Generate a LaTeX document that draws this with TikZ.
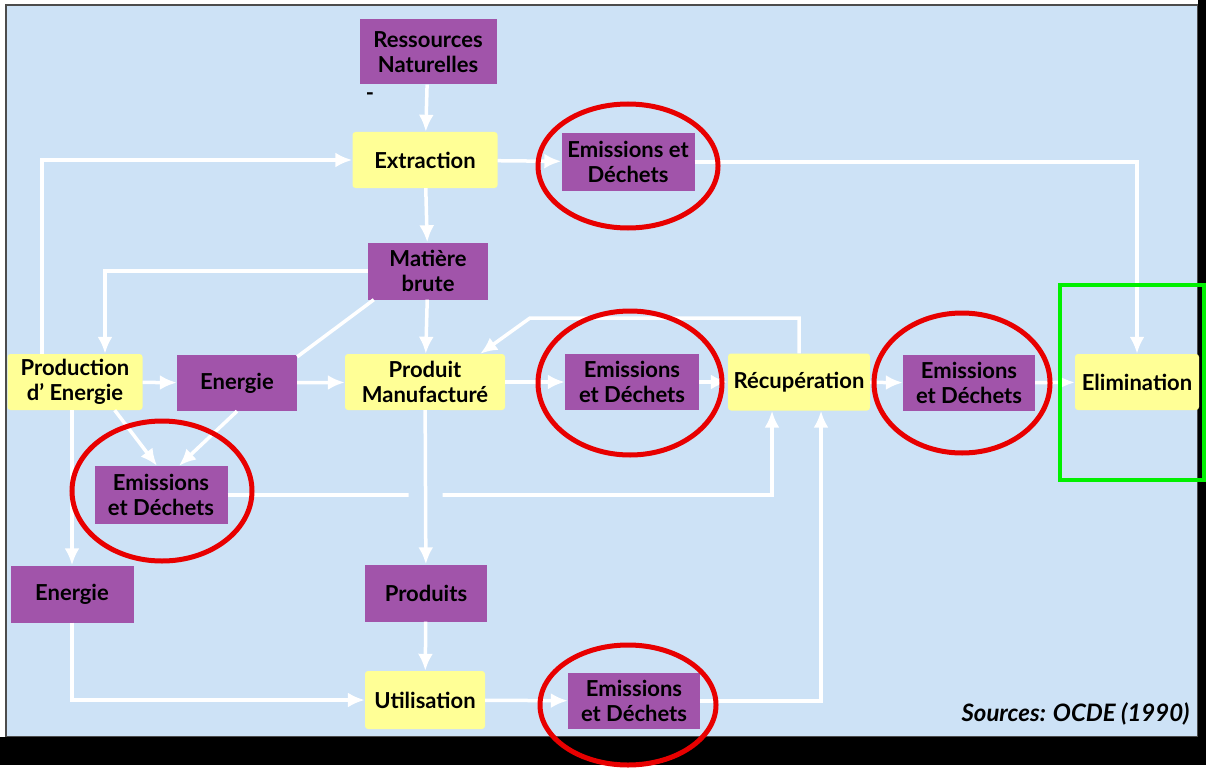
\documentclass[tikz,border=0pt]{standalone}
\usepackage{fontspec}
\setmainfont{Lato}
\usetikzlibrary{arrows.meta}

\definecolor{bgblue}{RGB}{205,226,246}
\definecolor{boxpurple}{RGB}{161,84,170}
\definecolor{boxyellow}{RGB}{255,255,150}
\definecolor{ringred}{RGB}{232,0,0}
\definecolor{markgreen}{RGB}{0,240,0}

\begin{document}
\begin{tikzpicture}[x=1pt, y=-1pt, >={Latex[length=17pt,width=15pt]},
  purplebox/.style={fill=boxpurple, minimum width=#1, minimum height=56pt,
    inner sep=0pt, align=center, font=\bfseries\fontsize{22}{25}\selectfont},
  yellowbox/.style={purplebox=#1, fill=boxyellow, rounded corners=3pt},
  flow/.style={->, draw=white, line width=3.5pt},
  ring/.style={draw=ringred, line width=5pt}]
% frame
\fill[white] (0,0) rectangle (1206,765);
\filldraw[fill=bgblue, draw=black!70, line width=1.5pt] (6,5) rectangle (1198,737);
\fill[black] (0,737) rectangle (1206,765);
\fill[black] (1198,0) rectangle (1206,737);

% top column
\node[purplebox=137pt, minimum height=65pt] (res) at (428,52) {Ressources\\Naturelles};
\node[font=\bfseries\fontsize{22}{25}\selectfont] (dash) at (370,97) {-};
\node[yellowbox=145pt] (ext) at (425,160) {Extraction};
\node[purplebox=133pt, minimum height=58pt] (ed1) at (628,162) {Emissions et\\Déchets};
\node[purplebox=120pt, minimum height=57pt] (mat) at (428,271) {Matière\\brute};

% middle row
\node[yellowbox=135pt] (prod) at (75,382) {Production\\d' Energie};
\node[purplebox=120pt] (en1) at (237,383) {Energie};
\node[yellowbox=160pt] (pm) at (425,382) {Produit\\Manufacturé};
\node[purplebox=134pt] (ed2) at (632,382) {Emissions\\et Déchets};
\node[yellowbox=142pt, minimum height=57pt] (rec) at (799,382) {Récupération};
\node[purplebox=132pt] (ed3) at (969,383) {Emissions\\et Déchets};
\node[yellowbox=124pt] (eli) at (1137,382) {Elimination};

% lower part
\node[purplebox=133pt, minimum height=58pt] (ed4) at (161,495) {Emissions\\et Déchets};
\node[purplebox=123pt, minimum height=57pt] (en2) at (72,594) {Energie};
\node[purplebox=122pt, minimum height=57pt] (prs) at (426,593) {Produits};
\node[yellowbox=120pt, minimum height=58pt] (uti) at (425,700) {Utilisation};
\node[purplebox=132pt] (ed5) at (634,701) {Emissions\\et Déchets};

\node[font=\bfseries\itshape\fontsize{24}{26}\selectfont, anchor=east] (src) at (1193,714) {Sources: OCDE (1990)};

% connectors
\coordinate (loopturn) at (530,318);
\draw[flow] (res) -- (ext);
\draw[flow] (ext) -- (ed1);
\draw[flow] (ed1.east) -| (eli.north);
\draw[flow] (ext) -- (mat);
\draw[flow] ([xshift=-33pt]prod.north) |- (ext.west);
\draw[flow] (mat.west) -| ([xshift=30pt]prod.north);
\draw[flow] (mat) -- (pm);
\draw[draw=white, line width=3.5pt] ([xshift=6pt]mat.south west) -- ([yshift=-2pt]en1.north east);
\draw[flow] (prod) -- (en1);
\draw[flow] (en1) -- (pm);
\draw[flow] (pm) -- (ed2);
\draw[flow] (ed2) -- (rec);
\draw[flow] (rec.north) |- (loopturn) -- ([xshift=-25pt]pm.north east);
\draw[flow] (rec) -- (ed3);
\draw[flow] (ed3) -- (eli);
\draw[flow] ([xshift=-28pt]prod.south east) -- ([xshift=-4pt]ed4.north);
\draw[flow] (en1.south) -- ([xshift=18pt]ed4.north);
\draw[flow] (en2.north |- prod.south) -- (en2.north);
\draw[flow] (ed4.east) -| ([xshift=-27pt]rec.south);
\draw[flow, preaction={draw=bgblue, line width=34pt, -}] (pm) -- (prs);
\draw[flow] (prs) -- (uti);
\draw[flow] (en2.south) |- (uti.west);
\draw[flow] (uti) -- (ed5);
\draw[flow] (ed5.east) -| ([xshift=22pt]rec.south);

% highlights
\foreach \cx/\cy/\rx/\ry in {628/166/90/62, 630/383/92/72, 962/383/88/70,
                             162/491/90/70, 628/705/88/60}{
    \draw[ring] (\cx,\cy) ellipse [x radius={\rx pt}, y radius={\ry pt}];
}
\draw[draw=markgreen, line width=4pt] (1060,285) rectangle (1204,480);
\end{tikzpicture}
\end{document}
